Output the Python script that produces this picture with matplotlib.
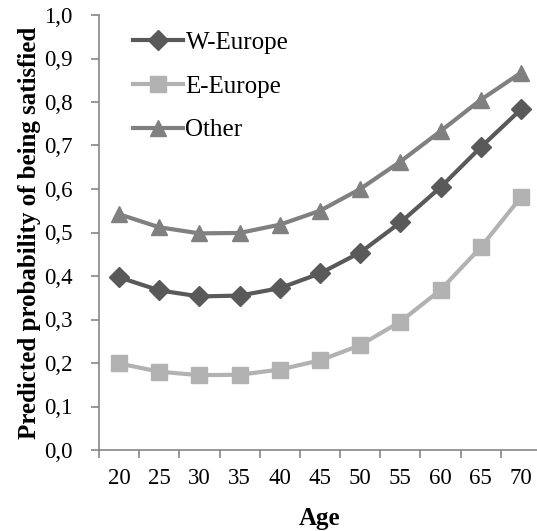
import numpy as np
import matplotlib.pyplot as plt

ages = ["20", "25", "30", "35", "40", "45", "50", "55", "60", "65", "70"]
w_europe = [0.397, 0.367, 0.353, 0.355, 0.372, 0.406, 0.454, 0.523, 0.604, 0.696, 0.783]
e_europe = [0.199, 0.180, 0.172, 0.173, 0.185, 0.206, 0.241, 0.295, 0.368, 0.466, 0.581]
other = [0.542, 0.512, 0.498, 0.499, 0.518, 0.550, 0.600, 0.663, 0.733, 0.805, 0.867]

plt.rcParams['font.family'] = ['Liberation Serif', 'DejaVu Serif']

fig = plt.figure(figsize=(5.37, 5.31), dpi=100)
ax = fig.add_axes([99 / 537, 1 - 450 / 531, 442 / 537, 435 / 531])

x = np.arange(len(ages))
ax.plot(x, w_europe, color='#595959', lw=3, marker='D', ms=10, label='W-Europe')
ax.plot(x, e_europe, color='#b2b2b2', lw=3, marker='s', ms=11, label='E-Europe')
ax.plot(x, other, color='#808080', lw=3, marker='^', ms=12, label='Other')

ax.set_xlim(-0.5, len(ages) - 0.5)
ax.set_ylim(0, 1.0)
ax.set_xticks(np.arange(-0.5, len(ages) - 0.5, 1.0))
ax.set_xticklabels([])
ax.set_xticks(x, minor=True)
ax.set_xticklabels(ages, minor=True, fontsize=16.5)
ax.tick_params(axis='x', which='minor', length=0, pad=13)
ax.tick_params(axis='x', which='major', length=6, color='#868686', width=1.2)
yt = np.arange(0, 1.01, 0.1)
ax.set_yticks(yt)
ax.set_yticklabels([f"{v:.1f}".replace('.', ',') for v in yt], fontsize=16.5)
ax.tick_params(axis='y', length=6, color='#868686', width=1.2, pad=13)

for s in ['top', 'right']:
    ax.spines[s].set_visible(False)
for s in ['left', 'bottom']:
    ax.spines[s].set_color('#868686')
    ax.spines[s].set_linewidth(1.2)

ax.set_xlabel('Age', fontsize=18, fontweight='bold', labelpad=13)
ax.set_ylabel('Predicted probability of being satisfied', fontsize=18, fontweight='bold', labelpad=2)

ax.legend(loc='upper left', bbox_to_anchor=(0.026, 1.014), frameon=False, fontsize=18,
          handlelength=2.0, handletextpad=0.1, labelspacing=0.85)

fig.savefig('out.png', dpi=100)
